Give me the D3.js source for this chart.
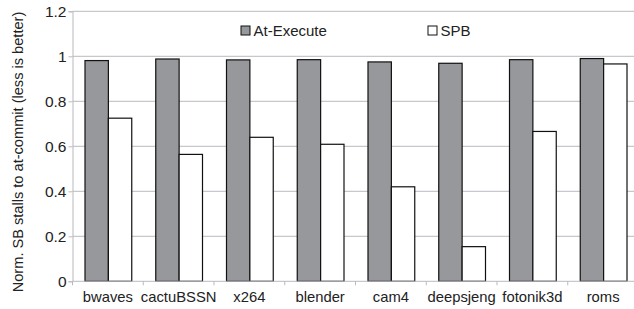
<!DOCTYPE html>
<html>
<head>
<meta charset="utf-8">
<script src="https://cdn.jsdelivr.net/npm/d3@7"></script>
<style>
  body { margin: 0; background: #fff; }
  svg { display: block; font-family: "Liberation Sans", Arial, sans-serif; }
</style>
</head>
<body>
<svg id="chart" width="634" height="309"></svg>
<script>
var benchmarks = ["bwaves", "cactuBSSN", "x264", "blender", "cam4", "deepsjeng", "fotonik3d", "roms"];
var atExecute = [0.981, 0.988, 0.984, 0.985, 0.975, 0.969, 0.985, 0.990];
var spb = [0.725, 0.564, 0.640, 0.609, 0.420, 0.154, 0.666, 0.966];
var yTicks = [0, 0.2, 0.4, 0.6, 0.8, 1, 1.2];
var seriesNames = ["At-Execute", "SPB"];
var seriesColors = ["#96989c", "#ffffff"];

var margin = { top: 11.3, right: -4.5, bottom: 27.7, left: 72.5 };
var width = 634 - margin.left - margin.right,
   height = 309 - margin.top - margin.bottom;

var svg = d3.select("svg#chart")
   .append("g")
   .attr("transform", `translate(${margin.left}, ${margin.top})`);

var x = d3.scaleBand().domain(benchmarks).range([0, width]).paddingInner(0).paddingOuter(0);
var y = d3.scaleLinear().domain([0, 1.2]).range([height, 0]);
var sub = d3.scaleBand().domain(seriesNames).range([12.5, x.bandwidth() - 11.5]);

// gridlines
svg.append("g")
   .selectAll("line")
   .data(yTicks.filter(function (d) { return d > 0; }))
   .join("line")
   .attr("x1", 0).attr("x2", width)
   .attr("y1", function (d) { return y(d); })
   .attr("y2", function (d) { return y(d); })
   .attr("stroke", "#b9b9c0")
   .attr("stroke-width", 1);

// bars
var rows = benchmarks.map(function (b, i) {
   return [{ key: "At-Execute", b: b, v: atExecute[i] }, { key: "SPB", b: b, v: spb[i] }];
});
svg.append("g")
   .selectAll("g")
   .data(rows)
   .join("g")
   .attr("transform", function (d) { return `translate(${x(d[0].b)},0)`; })
   .selectAll("rect")
   .data(function (d) { return d; })
   .join("rect")
   .attr("x", function (d) { return sub(d.key); })
   .attr("width", sub.bandwidth())
   .attr("y", function (d) { return y(d.v); })
   .attr("height", function (d) { return y(0) - y(d.v); })
   .attr("fill", function (d) { return seriesColors[seriesNames.indexOf(d.key)]; })
   .attr("stroke", "#111")
   .attr("stroke-width", 1.2);

// y axis
var yAxis = svg.append("g")
   .call(d3.axisLeft(y).tickValues(yTicks).tickFormat(function (d) { return d3.format("")(d); }).tickSizeOuter(0).tickSize(4));
yAxis.select(".domain").attr("stroke", "#b9b9c0");
yAxis.selectAll(".tick line").attr("stroke", "#b9b9c0");
yAxis.selectAll(".tick text").attr("font-size", "15.5px").attr("fill", "#222").attr("x", -6).attr("font-family", "Liberation Sans, Arial, sans-serif");

// x axis: ticks at category boundaries
var xAxis = svg.append("g").attr("transform", `translate(0,${height})`);
xAxis.append("line").attr("x1", 0).attr("x2", width).attr("stroke", "#b9b9c0");
xAxis.selectAll("line.b")
   .data(benchmarks.concat(["end"]))
   .join("line")
   .attr("class", "b")
   .attr("x1", function (d, i) { return i * x.bandwidth(); })
   .attr("x2", function (d, i) { return i * x.bandwidth(); })
   .attr("y1", 0).attr("y2", 4)
   .attr("stroke", "#b9b9c0");
xAxis.selectAll("text")
   .data(benchmarks)
   .join("text")
   .attr("x", function (d) { return x(d) + x.bandwidth() / 2; })
   .attr("y", 20.5)
   .attr("text-anchor", "middle")
   .attr("font-size", "14.8px")
   .attr("fill", "#222")
   .text(function (d) { return d; });

// y axis title
svg.append("text")
   .attr("transform", `translate(${23 - margin.left},${152 - margin.top}) rotate(-90)`)
   .attr("text-anchor", "middle")
   .attr("font-size", "14.6px")
   .attr("fill", "#222")
   .text("Norm. SB stalls to at-commit (less is better)");

// legend
var legendX = [241 - margin.left, 428 - margin.left];
var legend = svg.append("g")
   .selectAll("g")
   .data(seriesNames)
   .join("g")
   .attr("transform", function (d, i) { return `translate(${legendX[i]},${30.5 - margin.top})`; });
legend.append("rect")
   .attr("x", 0).attr("y", -4.5)
   .attr("width", 9).attr("height", 9)
   .attr("fill", function (d, i) { return seriesColors[i]; })
   .attr("stroke", "#111");
legend.append("text")
   .attr("x", 12.5).attr("y", 5)
   .attr("font-size", "15px")
   .attr("fill", "#222")
   .text(function (d) { return d; });
</script>
</body>
</html>
